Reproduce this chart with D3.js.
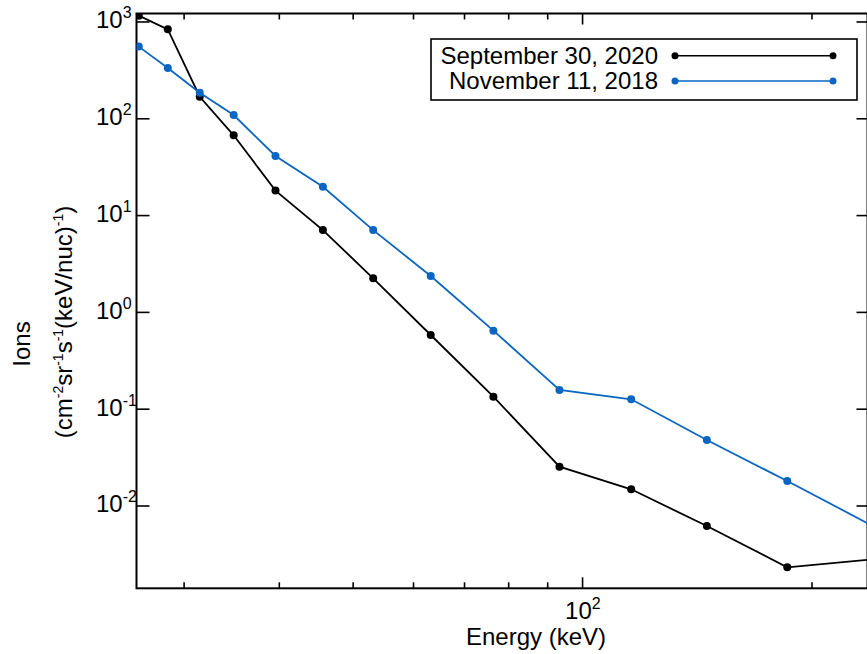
<!DOCTYPE html>
<html>
<head>
<meta charset="utf-8">
<script src="https://cdn.jsdelivr.net/npm/d3@7"></script>
<style>
  body { margin: 0; background: #fff; }
  text { font-family: "Liberation Sans", Arial, Helvetica, sans-serif; fill: #000; }
</style>
</head>
<body>
<div id="chart"></div>
<script>
// energy bins (keV) shared by both events
var energy = [26.2, 28.6, 31.5, 34.9, 39.6, 45.7, 53.2, 63.3, 76.5, 93.4, 116, 145.8, 185.9, 240];
// ion intensity, cm-2 sr-1 s-1 (keV/nuc)-1
var sep2020 = [1148, 830, 167, 66.7, 17.9, 7.0, 2.22, 0.577, 0.133, 0.0252, 0.0147, 0.00614, 0.0023, 0.00277];
var nov2018 = [550, 331, 184, 108, 40.8, 19.6, 7.0, 2.35, 0.64, 0.156, 0.125, 0.0475, 0.0179, 0.00622];
var seriesNames = ["September 30, 2020", "November 11, 2018"];
var seriesColors = ["#000000", "#0a66c2"];

var xMajor = [100];
var xMinor = [30, 40, 50, 60, 70, 80, 90, 200];
var yMajor = [1e3, 1e2, 1e1, 1e0, 1e-1, 1e-2];

var W = 867, H = 654;
var pLeft = 136.5, pRight = 867.5, pTop = 13.5, pBottom = 588.3;

var svg = d3.select("#chart").append("svg")
    .attr("width", W)
    .attr("height", H);

var x = d3.scaleLog().domain([26.02, 236.9]).range([pLeft, pRight]);
var y = d3.scaleLog().domain([1209, 0.001395]).range([pTop, pBottom]);

svg.append("clipPath").attr("id", "plotclip")
  .append("rect")
    .attr("x", pLeft).attr("y", pTop)
    .attr("width", pRight - pLeft).attr("height", pBottom - pTop);

// axes, ticks drawn inward
function axisG(axis, tx, ty) {
  var g = svg.append("g")
      .attr("transform", "translate(" + tx + "," + ty + ")")
      .call(axis);
  g.select(".domain").remove();
  g.selectAll("line").attr("stroke", "#000").attr("stroke-width", 1.6);
  return g;
}
axisG(d3.axisBottom(x).tickValues(xMajor).tickSize(-11).tickFormat(""), 0, pBottom);
axisG(d3.axisBottom(x).tickValues(xMinor).tickSize(-6).tickFormat(""), 0, pBottom);
axisG(d3.axisTop(x).tickValues(xMajor).tickSize(-11).tickFormat(""), 0, pTop);
axisG(d3.axisTop(x).tickValues(xMinor).tickSize(-6).tickFormat(""), 0, pTop);
axisG(d3.axisLeft(y).tickValues(yMajor).tickSize(-13).tickFormat(""), pLeft, 0);
axisG(d3.axisRight(y).tickValues(yMajor).tickSize(-11).tickFormat(""), pRight, 0);

// frame
svg.append("rect")
    .attr("x", pLeft).attr("y", pTop)
    .attr("width", pRight - pLeft).attr("height", pBottom - pTop)
    .attr("fill", "none")
    .attr("stroke", "#000")
    .attr("stroke-width", 2);

// tick labels with superscript exponents
function powLabel(sel, v) {
  sel.append("tspan").text("10");
  sel.append("tspan")
      .attr("dy", -10)
      .style("font-size", "16px")
      .text(Math.round(Math.log10(v)));
}
yMajor.forEach(function(v) {
  var t = svg.append("text")
      .attr("x", 96)
      .attr("y", y(v) + 7)
      .style("font-size", "24px");
  powLabel(t, v);
});
xMajor.forEach(function(v) {
  var t = svg.append("text")
      .attr("x", x(v) - 17)
      .attr("y", 619)
      .style("font-size", "24px");
  powLabel(t, v);
});

// axis titles
svg.append("text")
    .attr("x", 536)
    .attr("y", 645)
    .attr("text-anchor", "middle")
    .style("font-size", "24px")
    .text("Energy (keV)");

svg.append("text")
    .attr("transform", "translate(30,344) rotate(-90)")
    .attr("text-anchor", "middle")
    .style("font-size", "24px")
    .text("Ions");

var unit = svg.append("text")
    .attr("transform", "translate(72,322) rotate(-90)")
    .attr("text-anchor", "middle")
    .style("font-size", "24px");
var parts = [["(cm", 0], ["-2", 1], ["sr", 0], ["-1", 1], ["s", 0], ["-1", 1], ["(keV/nuc)", 0], ["-1", 1], [")", 0]];
var up = false;
parts.forEach(function(p) {
  var ts = unit.append("tspan").text(p[0]);
  if (p[1]) { ts.style("font-size", "14px"); if (!up) { ts.attr("dy", -9); up = true; } }
  else if (up) { ts.attr("dy", 9); up = false; }
});

// data lines and markers
var plot = svg.append("g").attr("clip-path", "url(#plotclip)");
var line = d3.line()
    .x(function(d) { return x(d[0]); })
    .y(function(d) { return y(d[1]); });

[sep2020, nov2018].forEach(function(vals, i) {
  var pts = energy.map(function(e, j) { return [e, vals[j]]; });
  plot.append("path")
      .datum(pts)
      .attr("fill", "none")
      .attr("stroke", seriesColors[i])
      .attr("stroke-width", 1.8)
      .attr("d", line);
  plot.selectAll(null)
      .data(pts)
      .enter()
      .append("circle")
      .attr("cx", function(d) { return x(d[0]); })
      .attr("cy", function(d) { return y(d[1]); })
      .attr("r", 4)
      .attr("fill", seriesColors[i]);
});

// legend
var lg = svg.append("g");
lg.append("rect")
    .attr("x", 431).attr("y", 39)
    .attr("width", 426).attr("height", 61)
    .attr("fill", "#fff")
    .attr("stroke", "#000")
    .attr("stroke-width", 1.6);
seriesNames.forEach(function(name, i) {
  var ly = 55.7 + i * 25.3;
  lg.append("text")
      .attr("x", 658)
      .attr("y", ly + 8)
      .attr("text-anchor", "end")
      .style("font-size", "24px")
      .text(name);
  lg.append("line")
      .attr("x1", 675).attr("x2", 833)
      .attr("y1", ly).attr("y2", ly)
      .attr("stroke", seriesColors[i])
      .attr("stroke-width", 1.6);
  lg.selectAll(null)
      .data([675, 833])
      .enter()
      .append("circle")
      .attr("cx", function(d) { return d; })
      .attr("cy", ly)
      .attr("r", 3.5)
      .attr("fill", seriesColors[i]);
});
</script>
</body>
</html>
